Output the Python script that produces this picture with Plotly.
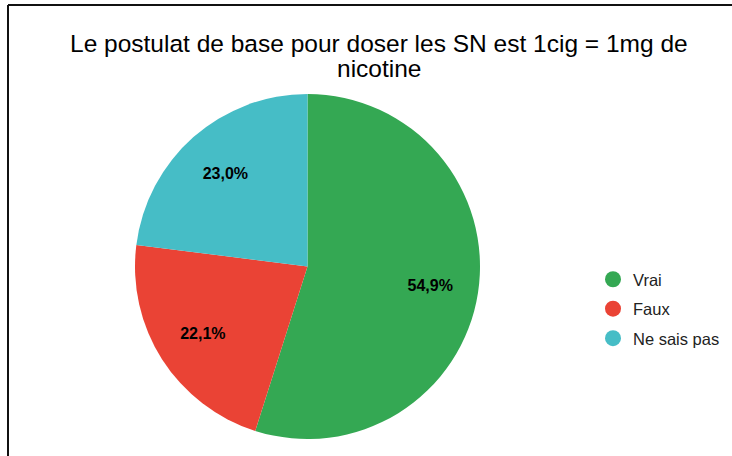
import plotly.graph_objects as go

categories = ["Vrai", "Faux", "Ne sais pas"]
values = [54.9, 22.1, 23.0]
colors = ["#34A853", "#EA4335", "#46BDC6"]
title_lines = ["Le postulat de base pour doser les SN est 1cig = 1mg de", "nicotine"]

W, H = 732, 456
cx, cy, r = 307.5, 266.5, 172.5
dom = dict(x=[(cx - r) / W, (cx + r) / W], y=[(H - cy - r) / H, (H - cy + r) / H])
FONT = "Liberation Sans, Arial"

fig = go.Figure()
fig.add_trace(go.Pie(
    labels=categories, values=values, sort=False, direction="clockwise", rotation=0,
    marker=dict(colors=colors, line=dict(width=0)),
    textinfo="none", showlegend=False, hoverinfo="label+percent",
    domain=dom,
))
# transparent ring overlay used only to place the percentage labels at ~0.72 r
fig.add_trace(go.Pie(
    labels=categories, values=values, sort=False, direction="clockwise", rotation=0,
    hole=0.44,
    marker=dict(colors=["rgba(0,0,0,0)"] * len(values), line=dict(width=0)),
    texttemplate="<b>%{percent:.1%}</b>", textposition="inside",
    insidetextorientation="horizontal",
    textfont=dict(family=FONT, size=16, color="#000000"),
    showlegend=False, hoverinfo="skip",
    domain=dom,
))
for c, col in zip(categories, colors):
    fig.add_trace(go.Scatter(
        x=[None], y=[None], mode="markers", name=c, legendgroup=c,
        marker=dict(symbol="circle", size=16, color=col),
    ))

annotations = []
for txt, ypx in zip(title_lines, [43, 68]):
    annotations.append(dict(text=txt, xref="paper", yref="paper", x=379 / W, y=1 - ypx / H,
                            xanchor="center", yanchor="middle", showarrow=False,
                            font=dict(family=FONT, size=24.5, color="#000000")))

fig.update_layout(
    width=W, height=H,
    margin=dict(l=0, r=0, t=0, b=0),
    paper_bgcolor="white", plot_bgcolor="white",
    separators=", ",
    annotations=annotations,
    legend=dict(x=593 / W, xanchor="left", y=1 - 262 / H, yanchor="top",
                font=dict(family=FONT, size=16.5, color="#222222"),
                tracegroupgap=5, bgcolor="rgba(0,0,0,0)"),
    xaxis=dict(visible=False), yaxis=dict(visible=False),
    shapes=[
        dict(type="line", xref="paper", yref="paper", x0=8 / W, x1=8 / W, y0=0, y1=1 - 5 / H,
             line=dict(color="#111111", width=2)),
        dict(type="line", xref="paper", yref="paper", x0=8 / W, x1=1, y0=1 - 5 / H, y1=1 - 5 / H,
             line=dict(color="#111111", width=2)),
    ],
)

fig.write_html("out.html", config={"displayModeBar": False},
               post_script="document.body.style.margin='0px';document.body.style.overflow='hidden';")
